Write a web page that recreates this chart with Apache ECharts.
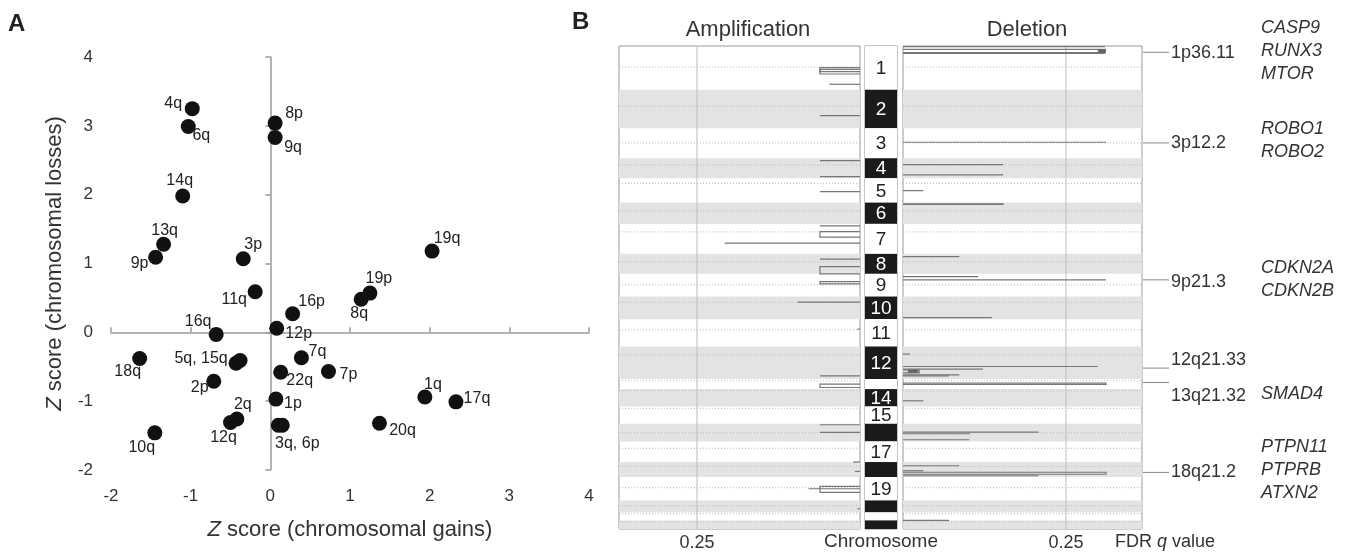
<!DOCTYPE html>
<html>
<head>
<meta charset="utf-8">
<title>Arm-level Z scores and focal peaks</title>
<script src="https://cdn.jsdelivr.net/npm/echarts@6/dist/echarts.min.js"></script>
<style>
  html, body { margin: 0; padding: 0; background: #fff; }
  #chart { width: 1351px; height: 553px; }
</style>
</head>
<body>
<div id="chart"></div>
<script>
// ---- panel A: arm-level Z scores ----
const armNames = ['4q', '6q', '14q', '13q', '9p', '3p', '8p', '9q', '19q', '11q', '16q', '18q',
  '5q', '15q', '2p', '2q', '12q', '10q', '1p', '3q', '6p', '12p', '16p', '19p', '8q',
  '7q', '22q', '7p', '1q', '17q', '20q'];
const armLabels = ['4q', '6q', '14q', '13q', '9p', '3p', '8p', '9q', '19q', '11q', '16q', '18q',
  '5q, 15q', '', '2p', '2q', '12q', '10q', '1p', '3q, 6p', '', '12p', '16p', '19p', '8q',
  '7q', '22q', '7p', '1q', '17q', '20q'];
const gainZ = [-0.98, -1.03, -1.10, -1.34, -1.44, -0.34, 0.06, 0.06, 2.03, -0.19, -0.68, -1.64,
  -0.43, -0.38, -0.71, -0.42, -0.50, -1.45, 0.07, 0.10, 0.15, 0.08, 0.28, 1.25, 1.14,
  0.39, 0.13, 0.73, 1.94, 2.33, 1.37];
const lossZ = [3.25, 2.99, 1.98, 1.28, 1.09, 1.07, 3.04, 2.83, 1.18, 0.59, -0.03, -0.38,
  -0.45, -0.41, -0.71, -1.26, -1.31, -1.46, -0.97, -1.35, -1.35, 0.06, 0.27, 0.57, 0.48,
  -0.37, -0.58, -0.57, -0.94, -1.01, -1.32];
// where each label sits relative to its dot (pixels)
const labelOffsets = [[-19, -5], [13, 9], [-3, -15], [1, -14], [-16, 6], [10, -14], [19, -9], [18, 10],
  [15, -13], [-21, 8], [-18, -13], [-12, 13], [-35, -5], [0, 0], [-14, 6], [6, -14], [-7, 15],
  [-13, 15], [17, 4], [19, 18], [0, 0], [22, 5], [19, -12], [9, -15], [-2, 14],
  [16, -6], [19, 8], [20, 3], [8, -12], [21, -3], [23, 7]];

// ---- panel B: focal amplification / deletion peaks ----
const chromSizes = [43.7, 38.6, 30, 20, 24.4, 21.3, 30, 20, 22.7, 22.6, 27.4, 32.6,
  10, 17.4, 17.3, 17.7, 20.6, 15, 23.4, 12, 8, 8.6];
const chromLabels = ['1', '2', '3', '4', '5', '6', '7', '8', '9', '10', '11', '12',
  '', '14', '15', '', '17', '', '19', '', '', ''];
const centromeres = [21, 60, 97, 119, 137.5, 165, 186, 216, 239, 256.5, 284, 309,
  335, 345, 362.5, 387, 402.5, 420.5, 442, 460, 468, 476];
// [start, end, -log10 q]
const ampPeaks = [[21.7, 28, 0.148], [23.3, 25.7, 0.148], [38.3, 38.3, 0.113], [69.7, 69.7, 0.148],
  [114.7, 114.7, 0.148], [130.7, 130.7, 0.148], [145.7, 145.7, 0.148], [180, 180, 0.148],
  [185.7, 191.3, 0.148], [197.3, 197.3, 0.5], [213.3, 213.3, 0.148], [220.7, 228, 0.148],
  [235.7, 238, 0.148], [256.3, 256.3, 0.23], [283.3, 283.3, 0.01], [330, 330, 0.148],
  [338.3, 341.7, 0.148], [379, 379, 0.148], [386.7, 386.7, 0.148], [416.3, 416.3, 0.025],
  [425.7, 425.7, 0.019], [440.7, 446.7, 0.148], [443, 443, 0.19], [463, 463, 0.01]];
const delPeaks = [[0.7, 0.7, 0.746], [3.3, 6.7, 0.746], [7.3, 7.3, 0.746], [96.3, 96.3, 0.75],
  [118.7, 118.7, 0.37], [129, 129, 0.37], [144.7, 144.7, 0.075], [158, 158.5, 0.37],
  [210.7, 210.7, 0.208], [230.7, 230.7, 0.278], [234, 234, 0.75], [271.7, 271.7, 0.328],
  [308.3, 308.3, 0.026], [320.7, 320.7, 0.72], [323.3, 323.3, 0.295], [324, 327, 0.06],
  [329, 329, 0.208], [330, 330, 0.17], [337.3, 338.7, 0.75], [355, 355, 0.075],
  [386.3, 386.3, 0.5], [388, 388, 0.248], [394, 394, 0.245], [420, 420, 0.208],
  [425, 425, 0.075], [426.5, 428.5, 0.75], [430, 430, 0.5], [474.7, 474.7, 0.17]];
// [start, end, from, to] solid blocks
const delBlocks = [[3.3, 6.7, 0.72, 0.75], [324, 327, 0.018, 0.055]];
const bandNames = ['1p36.11', '3p12.2', '9p21.3', '12q21.33', '13q21.32', '18q21.2'];
const bandPos = [6.3, 97, 234, 322.3, 336.7, 426.7];
const bandGenes = [['CASP9', 'RUNX3', 'MTOR'], ['ROBO1', 'ROBO2'], ['CDKN2A', 'CDKN2B'], [], ['SMAD4'],
  ['PTPN11', 'PTPRB', 'ATXN2']];
const bandTextShift = [1, 0, 2, -8, 14, 0];

const qTick = -Math.log10(0.25);
const ampMax = 0.89;
const delMax = 0.883;
const FONT = 'Liberation Sans, Arial, sans-serif';

const chromStarts = [];
let acc = 0;
chromSizes.forEach(s => { chromStarts.push(acc); acc += s; });
const genomeLen = acc;
const chromRows = chromSizes.map((s, i) => [chromStarts[i], chromStarts[i] + s, i]);

const chart = echarts.init(document.getElementById('chart'));

function rectBetween(a, b) {
  return {
    x: Math.min(a[0], b[0]), y: Math.min(a[1], b[1]),
    width: Math.abs(b[0] - a[0]), height: Math.abs(b[1] - a[1])
  };
}

const bandRender = (xMax) => (params, api) => {
  const i = api.value(2);
  if (i % 2 === 0) return null;
  const a = api.coord([0, api.value(0)]);
  const b = api.coord([xMax, api.value(1)]);
  return { type: 'rect', shape: rectBetween(a, b), style: { fill: '#e3e3e3' } };
};

const cenRender = (xMax) => (params, api) => {
  const a = api.coord([0, api.value(0)]);
  const b = api.coord([xMax, api.value(0)]);
  return {
    type: 'line',
    shape: { x1: a[0], y1: a[1], x2: b[0], y2: b[1] },
    style: { stroke: '#b8b8b8', lineWidth: 1, lineDash: [1, 2] }
  };
};

const gridLineRender = (params, api) => {
  const a = api.coord([api.value(0), 0]);
  const b = api.coord([api.value(0), genomeLen]);
  return {
    type: 'line',
    shape: { x1: a[0], y1: a[1], x2: b[0], y2: b[1] },
    style: { stroke: '#bdbdbd', lineWidth: 1 }
  };
};

const peakRender = (params, api) => {
  const s = api.value(0), e = api.value(1), v = api.value(2);
  const pts = [api.coord([0, s]), api.coord([v, s])];
  if (e > s) pts.push(api.coord([v, e]), api.coord([0, e]));
  return {
    type: 'polyline',
    shape: { points: pts },
    style: { stroke: '#777', lineWidth: 1.2, fill: null }
  };
};

const blockRender = (params, api) => {
  const a = api.coord([api.value(2), api.value(0)]);
  const b = api.coord([api.value(3), api.value(1)]);
  return { type: 'rect', shape: rectBetween(a, b), style: { fill: '#666' } };
};

const chromRender = (params, api) => {
  const i = api.value(2);
  const a = api.coord([0, api.value(0)]);
  const b = api.coord([1, api.value(1)]);
  const dark = i % 2 === 1;
  const r = rectBetween(a, b);
  const children = [{ type: 'rect', shape: r, style: { fill: dark ? '#1b1b1b' : '#fff' } }];
  if (chromLabels[i]) {
    children.push({
      type: 'text',
      x: r.x + r.width / 2, y: r.y + r.height / 2 + 1,
      style: {
        text: chromLabels[i], fill: dark ? '#fff' : '#222',
        font: '19px ' + FONT, align: 'center', verticalAlign: 'middle'
      }
    });
  }
  return { type: 'group', children: children };
};

const annotRender = (params, api) => {
  const i = params.dataIndex;
  const p = api.coord([delMax, api.value(1)]);
  const x0 = p[0] + 1, y = p[1];
  const ty = y + bandTextShift[i];
  const children = [
    { type: 'line', shape: { x1: x0, y1: y, x2: x0 + 26, y2: y }, style: { stroke: '#888', lineWidth: 1 } },
    {
      type: 'text', x: x0 + 28, y: ty,
      style: { text: bandNames[i], fill: '#333', font: '18px ' + FONT, align: 'left', verticalAlign: 'middle' }
    }
  ];
  const genes = bandGenes[i];
  genes.forEach((g, k) => {
    children.push({
      type: 'text', x: x0 + 118, y: ty - 2 + (k - (genes.length - 1) / 2) * 23,
      style: { text: g, fill: '#333', font: 'italic 18px ' + FONT, align: 'left', verticalAlign: 'middle' }
    });
  });
  return { type: 'group', children: children };
};

const axisGrey = { color: '#9a9a9a', width: 1.5 };

chart.setOption({
  animation: false,
  textStyle: { fontFamily: FONT },
  grid: [
    { left: 111, top: 57, width: 478, height: 413 },
    { left: 619, top: 46, width: 241, height: 483, show: true, borderColor: '#9a9a9a', borderWidth: 1, backgroundColor: '#fff' },
    { left: 865, top: 46, width: 32, height: 483, show: true, borderColor: '#8a8a8a', borderWidth: 1, backgroundColor: '#fff' },
    { left: 903, top: 46, width: 239, height: 483, show: true, borderColor: '#9a9a9a', borderWidth: 1, backgroundColor: '#fff' }
  ],
  xAxis: [
    {
      gridIndex: 0, type: 'value', position: 'bottom', min: -2, max: 4, interval: 1,
      axisLine: { show: false }, axisTick: { show: false }, splitLine: { show: false },
      axisLabel: { fontSize: 17, color: '#333', margin: 18 },
      name: '{i|Z} score (chromosomal gains)', nameLocation: 'middle', nameGap: 49,
      nameTextStyle: {
        fontSize: 22, color: '#333',
        rich: { i: { fontSize: 22, fontStyle: 'italic', color: '#333' } }
      }
    },
    {
      gridIndex: 0, type: 'value', position: 'top', min: -2, max: 4, interval: 1,
      axisLine: { onZero: true, lineStyle: axisGrey },
      axisTick: { length: 5, lineStyle: axisGrey },
      axisLabel: { show: false }, splitLine: { show: false }
    },
    {
      gridIndex: 1, type: 'value', min: 0, max: ampMax, inverse: true,
      axisLine: { show: false }, axisTick: { show: false }, splitLine: { show: false },
      axisLabel: { customValues: [qTick], formatter: () => '0.25', fontSize: 18, color: '#333', margin: 5 }
    },
    {
      gridIndex: 2, type: 'value', min: 0, max: 1, show: false
    },
    {
      gridIndex: 3, type: 'value', min: 0, max: delMax,
      axisLine: { show: false }, axisTick: { show: false }, splitLine: { show: false },
      axisLabel: { customValues: [qTick], formatter: () => '0.25', fontSize: 18, color: '#333', margin: 5 }
    }
  ],
  yAxis: [
    {
      gridIndex: 0, type: 'value', position: 'left', min: -2, max: 4, interval: 1,
      axisLine: { show: false }, axisTick: { show: false }, splitLine: { show: false },
      axisLabel: { fontSize: 17, color: '#333', margin: 18 },
      name: '{i|Z} score (chromosomal losses)', nameLocation: 'middle', nameGap: 45,
      nameTextStyle: {
        fontSize: 22, color: '#333',
        rich: { i: { fontSize: 22, fontStyle: 'italic', color: '#333' } }
      }
    },
    {
      gridIndex: 0, type: 'value', position: 'right', min: -2, max: 4, interval: 1,
      axisLine: { onZero: true, lineStyle: axisGrey },
      axisTick: { inside: true, length: 5, lineStyle: axisGrey },
      axisLabel: { show: false }, splitLine: { show: false }
    },
    { gridIndex: 1, type: 'value', min: 0, max: genomeLen, inverse: true, show: false },
    { gridIndex: 2, type: 'value', min: 0, max: genomeLen, inverse: true, show: false },
    { gridIndex: 3, type: 'value', min: 0, max: genomeLen, inverse: true, show: false }
  ],
  graphic: [
    { type: 'text', left: 8, top: 12, style: { text: 'A', font: 'bold 24px ' + FONT, fill: '#222' } },
    { type: 'text', left: 572, top: 10, style: { text: 'B', font: 'bold 24px ' + FONT, fill: '#222' } },
    {
      type: 'text', x: 748, y: 30,
      style: { text: 'Amplification', font: '22px ' + FONT, fill: '#333', align: 'center', verticalAlign: 'middle' }
    },
    {
      type: 'text', x: 1027, y: 30,
      style: { text: 'Deletion', font: '22px ' + FONT, fill: '#333', align: 'center', verticalAlign: 'middle' }
    },
    {
      type: 'text', x: 881, y: 542,
      style: { text: 'Chromosome', font: '19px ' + FONT, fill: '#333', align: 'center', verticalAlign: 'middle' }
    },
    {
      type: 'text', x: 1115, y: 542,
      style: {
        text: 'FDR {q|q} value', font: '18px ' + FONT, fill: '#333', verticalAlign: 'middle',
        rich: { q: { font: 'italic 18px ' + FONT, fill: '#333' } }
      }
    }
  ],
  series: [
    {
      type: 'scatter', xAxisIndex: 0, yAxisIndex: 0, symbolSize: 15, z: 5,
      itemStyle: { color: '#111', opacity: 1 },
      data: armNames.map((n, i) => ({
        name: n,
        value: [gainZ[i], lossZ[i]],
        label: {
          show: armLabels[i] !== '', formatter: armLabels[i],
          position: 'inside', offset: labelOffsets[i],
          fontSize: 16, color: '#222'
        }
      }))
    },
    // amplification panel
    { type: 'custom', xAxisIndex: 2, yAxisIndex: 2, z: 1, silent: true, renderItem: bandRender(ampMax), data: chromRows },
    { type: 'custom', xAxisIndex: 2, yAxisIndex: 2, z: 2, silent: true, renderItem: cenRender(ampMax), data: centromeres.map(c => [c]) },
    { type: 'custom', xAxisIndex: 2, yAxisIndex: 2, z: 3, silent: true, renderItem: gridLineRender, data: [[qTick]] },
    { type: 'custom', xAxisIndex: 2, yAxisIndex: 2, z: 4, silent: true, renderItem: peakRender, data: ampPeaks },
    // chromosome column
    { type: 'custom', xAxisIndex: 3, yAxisIndex: 3, z: 2, silent: true, renderItem: chromRender, data: chromRows },
    // deletion panel
    { type: 'custom', xAxisIndex: 4, yAxisIndex: 4, z: 1, silent: true, renderItem: bandRender(delMax), data: chromRows },
    { type: 'custom', xAxisIndex: 4, yAxisIndex: 4, z: 2, silent: true, renderItem: cenRender(delMax), data: centromeres.map(c => [c]) },
    { type: 'custom', xAxisIndex: 4, yAxisIndex: 4, z: 3, silent: true, renderItem: gridLineRender, data: [[qTick]] },
    { type: 'custom', xAxisIndex: 4, yAxisIndex: 4, z: 4, silent: true, renderItem: peakRender, data: delPeaks },
    { type: 'custom', xAxisIndex: 4, yAxisIndex: 4, z: 4, silent: true, renderItem: blockRender, data: delBlocks },
    {
      type: 'custom', xAxisIndex: 4, yAxisIndex: 4, z: 4, silent: true, clip: false,
      renderItem: annotRender, data: bandPos.map(p => [delMax, p])
    }
  ]
});
</script>
</body>
</html>
